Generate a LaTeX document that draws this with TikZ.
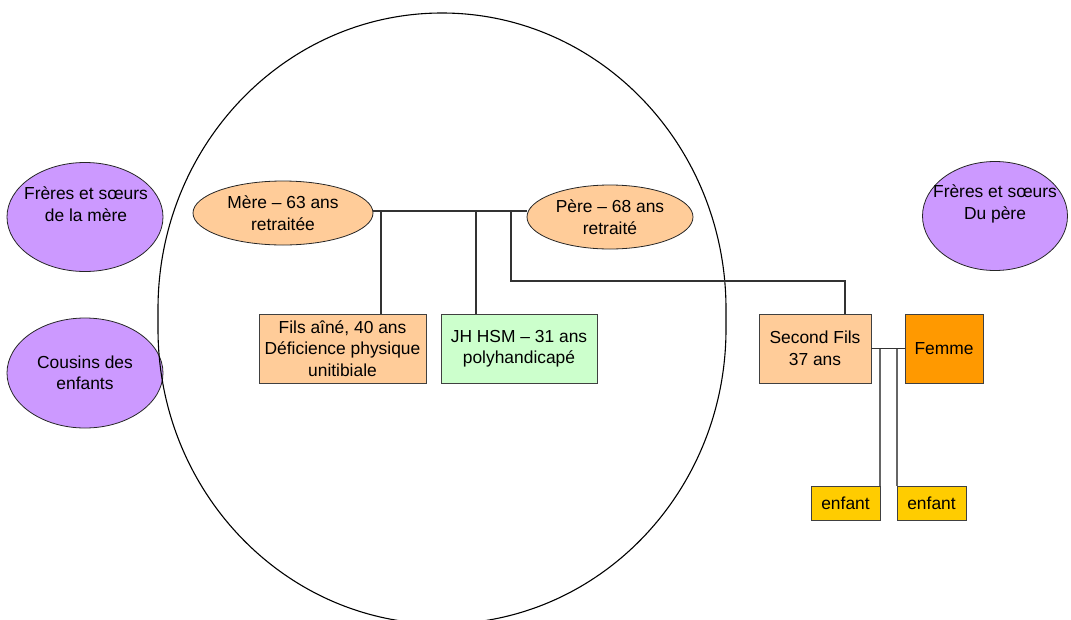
\documentclass[tikz,border=0pt]{standalone}
\usepackage{fontspec}
\setmainfont{Liberation Sans}
\usetikzlibrary{shapes.geometric}
\definecolor{peach}{HTML}{FFCC99}
\definecolor{lgreen}{HTML}{CCFFCC}
\definecolor{orangeF}{HTML}{FF9900}
\definecolor{gold}{HTML}{FFCC00}
\definecolor{lilac}{HTML}{CC99FF}
\begin{document}
\begin{tikzpicture}[x=1pt,y=-1pt,
  every node/.style={font=\fontsize{17.4}{21.5}\selectfont, align=center, inner sep=0pt},
  oval/.style={ellipse, draw=black!85, line width=0.8pt},
  box/.style={rectangle, draw=black!75, line width=0.8pt},
  link/.style={draw=black!80, line width=1.1pt},
  glink/.style={draw=black!60, line width=1.8pt}]
\useasboundingbox (0,0) rectangle (1071,619);
\fill[white] (0,0) rectangle (1071,619);
% side ovals
\node[oval, fill=lilac, minimum width=156, minimum height=109] (fsm) at (85,217) {};
\node (fsmt) at (86,204) {Frères et sœurs\\de la mère};
\node[oval, fill=lilac, minimum width=156, minimum height=110] (cous) at (85,373) {Cousins des\\enfants};
\node[oval, fill=lilac, minimum width=145, minimum height=109] (fsp) at (995,216) {};
\node (fspt) at (995,204) {Frères et sœurs\\Du père};
% big enclosing shape
\draw[line width=1.1pt] (158,309) arc[start angle=180, end angle=360, x radius=284, y radius=296]
  -- (726,329) arc[start angle=0, end angle=180, x radius=284, y radius=295] -- cycle;
% parents
\node[oval, fill=peach, minimum width=180, minimum height=64] (mere) at (283,213) {Mère – 63 ans\\retraitée};
\node[oval, fill=peach, minimum width=166, minimum height=64] (pere) at (610,217) {Père – 68 ans\\retraité};
% children
\node[box, fill=peach, minimum width=167, minimum height=69] (fils) at (342.5,348.5) {Fils aîné, 40 ans\\Déficience physique\\unitibiale};
\node[box, fill=lgreen, minimum width=156, minimum height=69] (jh) at (519,348.5) {JH HSM – 31 ans\\polyhandicapé};
\node[box, fill=peach, minimum width=112, minimum height=69] (second) at (815,348.5) {Second Fils\\37 ans};
\node[box, fill=orangeF, minimum width=78, minimum height=69] (femme) at (944,348.5) {Femme};
\node[box, fill=gold, minimum width=69, minimum height=34] (enf1) at (845.5,503) {enfant};
\node[box, fill=gold, minimum width=69, minimum height=34] (enf2) at (931.5,503) {enfant};
% connectors
\coordinate (b1) at (381,211);
\coordinate (b2) at (476,211);
\coordinate (b3) at (511,211);
\coordinate (k) at (845,281);
\coordinate (c1) at (880,349);
\coordinate (c2) at (897,349);
\path[link] (mere.east |- b1) -- (pere.west |- b1);
\path[link] (b1) -- (b1 |- fils.north);
\path[link] (b2) -- (b2 |- jh.north);
\path[link] (b3) -- (b3 |- k) -- (k) -- (k |- second.north);
\path[link] (second.east) -- (femme.west);
\path[glink] (c1) -- (c1 |- enf1.north);
\path[glink] (c2) -- (c2 |- enf2.north);
\end{tikzpicture}
\end{document}
